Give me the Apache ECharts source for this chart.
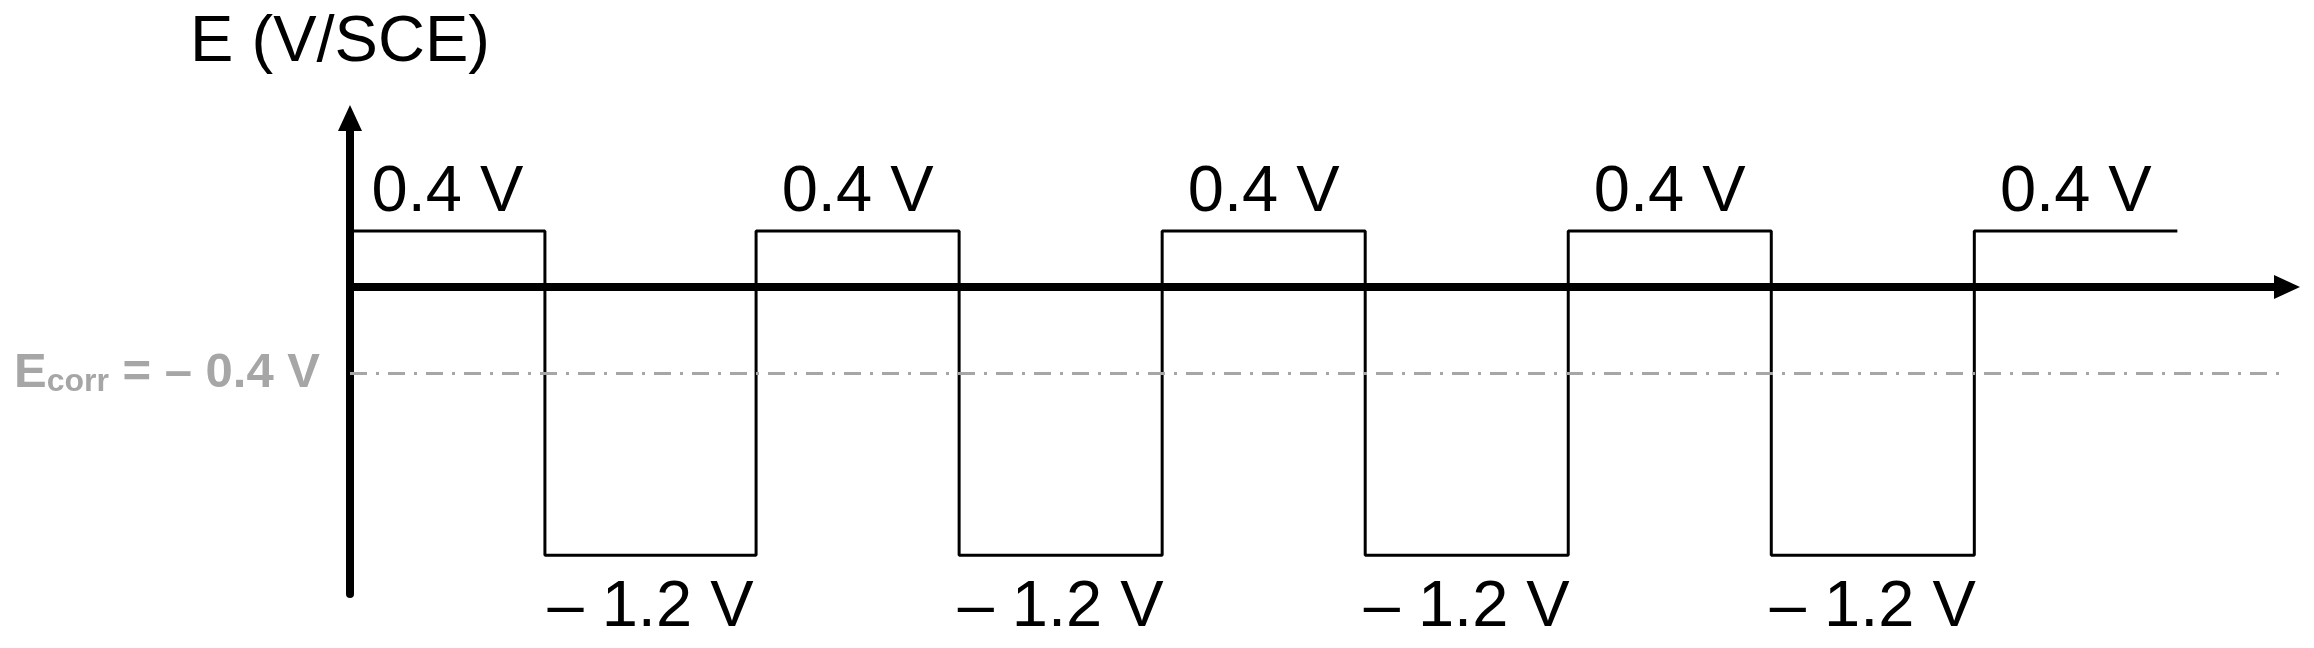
<!DOCTYPE html>
<html>
<head>
<meta charset="utf-8">
<script src="https://cdn.jsdelivr.net/npm/echarts@6/dist/echarts.min.js"></script>
<style>
html,body{margin:0;padding:0;background:#fff}
#chart{width:2314px;height:648px}
</style>
</head>
<body>
<div id="chart"></div>
<script>
// switching times of the pulse train (one half period = 1 time unit)
var edgeTimes = [0, 0.96, 2, 3, 4, 5, 6, 7, 8, 9];
// potential held from each edge to the next one (V/SCE)
var stepPotentials = [0.4, -1.2, 0.4, -1.2, 0.4, -1.2, 0.4, -1.2, 0.4];
var ecorrValue = -0.4;
var highText = '0.4 V';
var lowText = '\u2013 1.2 V';
var axisTitle = 'E (V/SCE)';

// the sketch is not drawn to scale, so volts go through a schematic axis
var knotVolts = [0.4, 0, -0.4, -1.2];
var knotPlot = [1, 0, -1.54, -4.79];

var FONT = 'Liberation Sans, Arial, sans-serif';

function toPlot(v){
	for(var i = 0;i<knotVolts.length-1;i++){
		var a = knotVolts[i], b = knotVolts[i+1];
		if(v <= a && v >= b){
			var f = (a - v)/(a - b);
			return knotPlot[i] + f*(knotPlot[i+1] - knotPlot[i]);
		}
	}
	return v > knotVolts[0] ? knotPlot[0] : knotPlot[knotPlot.length-1];
}

var wave = [];
var highPts = [], lowPts = [];
for(var i = 0;i<stepPotentials.length;i++){
	wave.push([edgeTimes[i], toPlot(stepPotentials[i])]);
	var mid = (edgeTimes[i] + edgeTimes[i+1])/2;
	if(stepPotentials[i] > 0){
		highPts.push([mid, toPlot(stepPotentials[i])]);
	}else{
		lowPts.push([mid, toPlot(stepPotentials[i])]);
	}
}
wave.push([edgeTimes[edgeTimes.length-1], toPlot(stepPotentials[stepPotentials.length-1])]);

var myChart = echarts.init(document.getElementById('chart'));

var axisLineStyle = {
	show: true,
	onZero: true,
	symbol: ['none', 'triangle'],
	symbolSize: [24, 26],
	lineStyle: {color: '#000', width: 8}
};

var option = {
	animation: false,
	grid: {left: 350, right: 27, top: 118, bottom: 54},
	xAxis: {
		type: 'value',
		min: 0,
		max: 9.54,
		axisLine: axisLineStyle,
		axisTick: {show: false},
		axisLabel: {show: false},
		splitLine: {show: false}
	},
	yAxis: {
		type: 'value',
		min: -5.48,
		max: 3.02,
		name: axisTitle,
		nameLocation: 'end',
		nameGap: 42,
		nameTextStyle: {
			fontFamily: FONT,
			fontSize: 65,
			color: '#000',
			align: 'center',
			padding: [0, 20, 0, 0]
		},
		axisLine: axisLineStyle,
		axisTick: {show: false},
		axisLabel: {show: false},
		splitLine: {show: false}
	},
	series: [
		{
			name: 'E',
			type: 'line',
			step: 'end',
			showSymbol: false,
			silent: true,
			data: wave,
			lineStyle: {color: '#000', width: 3},
			markLine: {
				silent: true,
				symbol: ['none', 'none'],
				lineStyle: {color: '#a6a6a6', width: 3, type: [17, 9, 3, 9]},
				label: {
					show: true,
					position: 'start',
					distance: 30,
					formatter: '{a|E}{b|corr}{a| = \u2013 0.4 V}',
					rich: {
						a: {fontFamily: FONT, fontSize: 49, fontWeight: 'bold', color: '#a6a6a6', lineHeight: 49},
						b: {fontFamily: FONT, fontSize: 32, fontWeight: 'bold', color: '#a6a6a6', lineHeight: 20, verticalAlign: 'bottom'}
					}
				},
				data: [{yAxis: toPlot(ecorrValue)}]
			}
		},
		{
			name: 'high',
			type: 'scatter',
			symbolSize: 0,
			silent: true,
			data: highPts,
			itemStyle: {opacity: 1},
			label: {
				show: true,
				position: 'top',
				distance: 6,
				formatter: highText,
				fontFamily: FONT,
				fontSize: 65,
				color: '#000',
				opacity: 1
			}
		},
		{
			name: 'low',
			type: 'scatter',
			symbolSize: 0,
			silent: true,
			data: lowPts,
			itemStyle: {opacity: 1},
			label: {
				show: true,
				position: 'bottom',
				distance: 20,
				formatter: lowText,
				fontFamily: FONT,
				fontSize: 65,
				color: '#000',
				opacity: 1
			}
		}
	]
};
myChart.setOption(option);
</script>
</body>
</html>
